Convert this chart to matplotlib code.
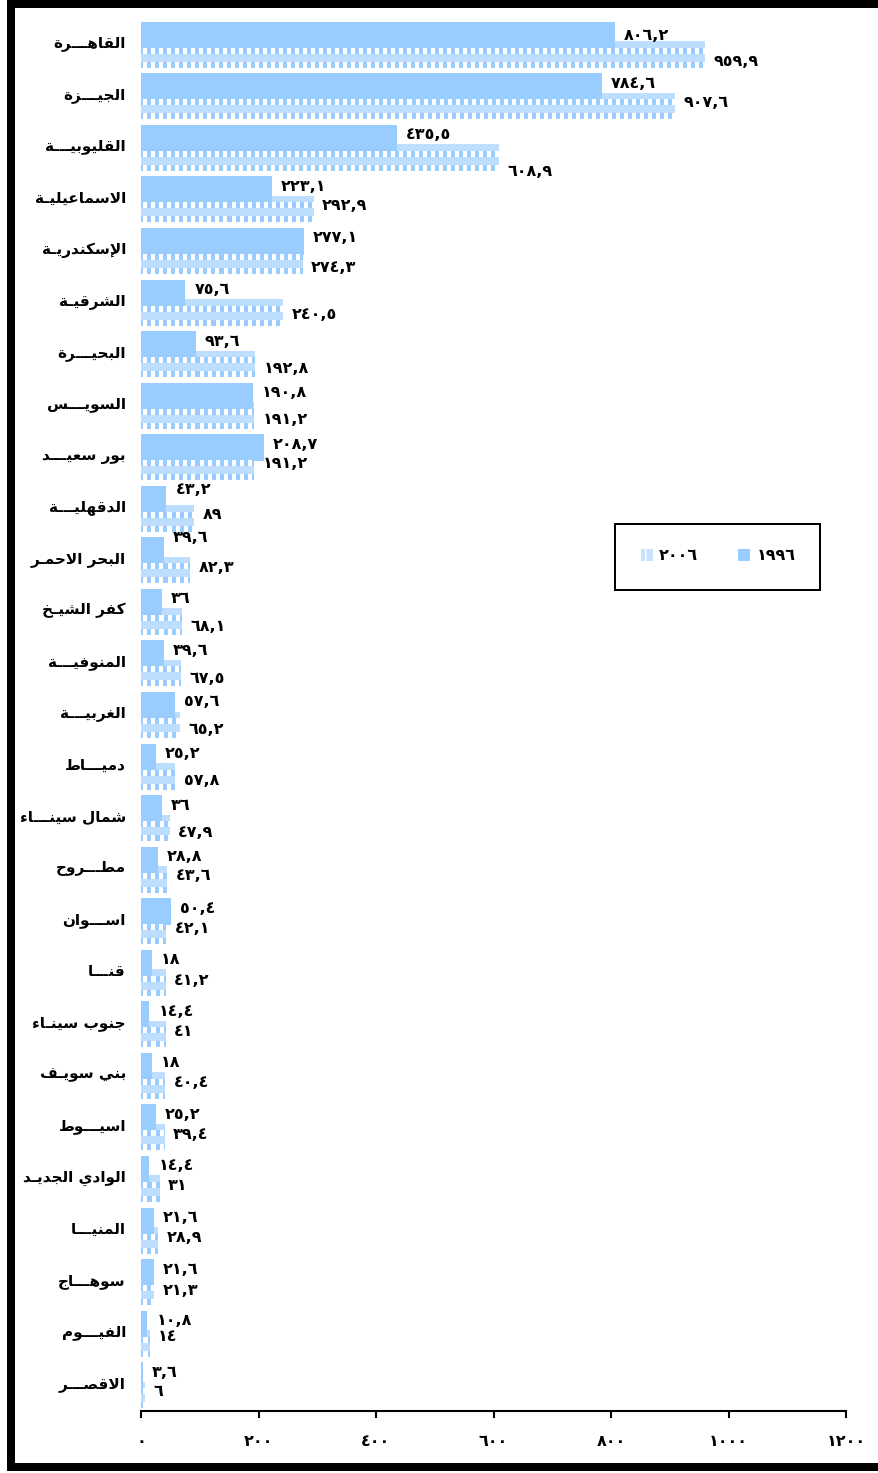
import numpy as np
import matplotlib
matplotlib.use("Agg")
import matplotlib.pyplot as plt
from matplotlib.patches import Rectangle, Patch
from matplotlib.lines import Line2D
from matplotlib.transforms import ScaledTranslation

# ---------------- data ----------------
governorates = ["القاهـــرة", "الجيـــزة", "القليوبيـــة", "الاسماعيليـة", "الإسكندريـة",
                "الشرقيـة", "البحيـــرة", "السويـــس", "بور سعيـــد", "الدقهليـــة",
                "البحر الاحمـر", "كفر الشيـخ", "المنوفيـــة", "الغربيـــة", "دميـــاط",
                "شمال سينـــاء", "مطـــروح", "اســـوان", "قنـــا", "جنوب سينـاء",
                "بني سويـف", "اسيـــوط", "الوادي الجديـد", "المنيـــا", "سوهـــاج",
                "الفيـــوم", "الاقصـــر"]
values_1996 = [806.2, 784.6, 435.5, 223.1, 277.1, 75.6, 93.6, 190.8, 208.7, 43.2,
               39.6, 36, 39.6, 57.6, 25.2, 36, 28.8, 50.4, 18, 14.4,
               18, 25.2, 14.4, 21.6, 21.6, 10.8, 3.6]
values_2006 = [959.9, 907.6, 608.9, 292.9, 274.3, 240.5, 192.8, 191.2, 191.2, 89,
               82.3, 68.1, 67.5, 65.2, 57.8, 47.9, 43.6, 42.1, 41.2, 41,
               40.4, 39.4, 31, 28.9, 21.3, 14, 6]
series_names = ["١٩٩٦", "٢٠٠٦"]
x_ticks = [0, 200, 400, 600, 800, 1000, 1200]

# label nudges (pixels, downward positive) - layout only
lab_dy_1996 = [-13] * 27
lab_dy_1996[0] = -9
lab_dy_1996[9] = -19
lab_dy_1996[10] = -23
lab_dy_2006 = [17, 6, 24, 6, 17, 12, 14, 14, 6, 6,
               7, 15, 15, 15, 14, 14, 6, 7, 8, 7,
               7, 7, 6, 7, 8, 3, 6]

# ---------------- arabic helpers ----------------
AR_DIGITS = str.maketrans("0123456789", "٠١٢٣٤٥٦٧٨٩")

def ar_num(v):
    if float(v) == int(v):
        s = str(int(v))
    else:
        s = f"{v:.1f}".replace(".", ",")
    return s.translate(AR_DIGITS)

FORM_BASE = {
    '\u0621': (0xFE80, 1), '\u0622': (0xFE81, 2), '\u0623': (0xFE83, 2),
    '\u0624': (0xFE85, 2), '\u0625': (0xFE87, 2), '\u0626': (0xFE89, 4),
    '\u0627': (0xFE8D, 2), '\u0628': (0xFE8F, 4), '\u0629': (0xFE93, 2),
    '\u062A': (0xFE95, 4), '\u062B': (0xFE99, 4), '\u062C': (0xFE9D, 4),
    '\u062D': (0xFEA1, 4), '\u062E': (0xFEA5, 4), '\u062F': (0xFEA9, 2),
    '\u0630': (0xFEAB, 2), '\u0631': (0xFEAD, 2), '\u0632': (0xFEAF, 2),
    '\u0633': (0xFEB1, 4), '\u0634': (0xFEB5, 4), '\u0635': (0xFEB9, 4),
    '\u0636': (0xFEBD, 4), '\u0637': (0xFEC1, 4), '\u0638': (0xFEC5, 4),
    '\u0639': (0xFEC9, 4), '\u063A': (0xFECD, 4), '\u0641': (0xFED1, 4),
    '\u0642': (0xFED5, 4), '\u0643': (0xFED9, 4), '\u0644': (0xFEDD, 4),
    '\u0645': (0xFEE1, 4), '\u0646': (0xFEE5, 4), '\u0647': (0xFEE9, 4),
    '\u0648': (0xFEED, 2), '\u0649': (0xFEEF, 2), '\u064A': (0xFEF1, 4),
    '\uFEF5': (0xFEF5, 2), '\uFEF7': (0xFEF7, 2), '\uFEF9': (0xFEF9, 2),
    '\uFEFB': (0xFEFB, 2),
}
LAM_ALEF = {'\u0622': '\uFEF5', '\u0623': '\uFEF7', '\u0625': '\uFEF9', '\u0627': '\uFEFB'}

def jtype(c):
    if c == '\u0640':
        return 4
    return FORM_BASE[c][1] if c in FORM_BASE else 0

def shape(text):
    chars = []
    i = 0
    while i < len(text):
        c = text[i]
        if c == '\u0644' and i + 1 < len(text) and text[i + 1] in LAM_ALEF:
            chars.append(LAM_ALEF[text[i + 1]])
            i += 2
        else:
            chars.append(c)
            i += 1
    out = []
    for k, c in enumerate(chars):
        t = jtype(c)
        if t == 0 or c == '\u0640':
            out.append(c)
            continue
        prev = chars[k - 1] if k > 0 else None
        nxt = chars[k + 1] if k + 1 < len(chars) else None
        jp = prev is not None and jtype(prev) == 4 and t >= 2
        jn = nxt is not None and jtype(nxt) >= 2 and t == 4
        base = FORM_BASE[c][0]
        if t == 1:
            out.append(chr(base))
        elif t == 2:
            out.append(chr(base + (1 if jp else 0)))
        else:
            off = 3 if (jp and jn) else 1 if jp else 2 if jn else 0
            out.append(chr(base + off))
    return "".join(reversed(out))

# ---------------- figure ----------------
plt.rcParams["font.family"] = ["DejaVu Sans"]
W, H, DPI = 879, 1473, 100
fig = plt.figure(figsize=(W / DPI, H / DPI), dpi=DPI)
fig.patch.set_facecolor("white")

ax_l, ax_r, ax_t, ax_b = 141, 846, 19, 1411
ax = fig.add_axes([ax_l / W, 1 - ax_b / H, (ax_r - ax_l) / W, (ax_b - ax_t) / H])

n = len(governorates)
pitch = (ax_b - ax_t) / n          # pixels per category
bar_h = 26.5 / pitch
off = 9.75 / pitch
y = np.arange(n)
BLUE = "#99CCFF"

b96 = ax.barh(y - off, values_1996, height=bar_h, color=BLUE, edgecolor="none", zorder=2)
b06 = ax.barh(y + off, values_2006, height=bar_h, facecolor=(1, 1, 1, 0), edgecolor="none", zorder=3)

# texture for the 2006 pattern fill
px_per_unit = (ax_r - ax_l) / 1200.0
blue_rgba = np.array([153, 204, 255, 255]) / 255.0
half_rgba = np.array([153, 204, 255, 165]) / 255.0
white_rgba = np.array([255, 255, 255, 255]) / 255.0

def make_texture(ncols):
    rows = 27
    tex = np.zeros((rows, ncols, 4))
    for r in range(rows):
        sq_row = (7 <= r < 13) or (21 <= r < 27)
        for c in range(ncols):
            if sq_row:
                tex[r, c] = white_rgba if 2 <= (c % 8) < 6 else blue_rgba
            else:
                tex[r, c] = half_rgba
    return tex

for rect, v in zip(b06.patches, values_2006):
    ncols = max(1, int(round(v * px_per_unit)))
    y0 = rect.get_y()
    y1 = y0 + rect.get_height()
    im = ax.imshow(make_texture(ncols), extent=(0, v, y1, y0), origin="upper",
                   interpolation="nearest", aspect="auto", zorder=3.5)
    im.set_clip_path(rect)

ax.set_xlim(0, 1200)
ax.set_ylim(n - 0.5, -0.5)

# value labels
PT = 72.0 / DPI
VFS = 11.5
for i in range(n):
    ax.annotate(ar_num(values_1996[i]), xy=(values_1996[i], i), xytext=(9 * PT, -lab_dy_1996[i] * PT),
                textcoords="offset points", ha="left", va="center", fontsize=VFS,
                fontweight="bold", color="black", zorder=5)
    ax.annotate(ar_num(values_2006[i]), xy=(values_2006[i], i), xytext=(9 * PT, -lab_dy_2006[i] * PT),
                textcoords="offset points", ha="left", va="center", fontsize=VFS,
                fontweight="bold", color="black", zorder=5)

ax.set_yticks(y)
ax.set_yticklabels([shape(g) for g in governorates], fontsize=11, fontweight="bold")
ax.tick_params(axis="y", length=0, pad=15 * PT)
up = ScaledTranslation(0, 3 / DPI, fig.dpi_scale_trans)
for lab in ax.get_yticklabels():
    lab.set_transform(lab.get_transform() + up)
ax.set_xticks(x_ticks)
ax.set_xticklabels([ar_num(t) for t in x_ticks], fontsize=11.5, fontweight="bold")
ax.tick_params(axis="x", direction="out", length=7 * PT, width=1.5, pad=16 * PT, color="black")

for s in ["left", "top", "right"]:
    ax.spines[s].set_visible(False)
ax.spines["bottom"].set_linewidth(1.5)
ax.set_facecolor("none")

# legend
h06 = Patch(facecolor="#C6E2FF", edgecolor="white", hatch="||", linewidth=0)
h96 = Patch(facecolor=BLUE, edgecolor="none")
fig.legend(handles=[h06, h96], labels=[series_names[1], series_names[0]],
           loc="center", bbox_to_anchor=(718 / W, 1 - 556 / H), ncol=2, frameon=False,
           prop=dict(weight="bold", size=11.5), handlelength=0.75, handleheight=0.75,
           handletextpad=0.4, columnspacing=2.5, borderpad=0, borderaxespad=0)
fig.add_artist(Rectangle((615 / W, 1 - 590 / H), 205 / W, 66 / H, transform=fig.transFigure,
                         fill=False, edgecolor="black", linewidth=2 * PT, zorder=10))

# outer frame: left, top and bottom edges only (right side is cut off in the reference)
FLW = 8 * PT
x_left = 11 / W
y_top = 1 - 3.5 / H
y_bot = 1 - 1467 / H
for xs, ys in [([x_left, x_left], [y_bot, y_top]),
               ([x_left - 4 / W, 1.0], [y_top, y_top]),
               ([x_left - 4 / W, 1.0], [y_bot, y_bot])]:
    fig.add_artist(Line2D(xs, ys, transform=fig.transFigure, color="black",
                          linewidth=FLW, solid_capstyle="butt", zorder=20))
# keep the right edge open
fig.add_artist(Rectangle((868 / W, 1 - 1462 / H), 20 / W, (1462 - 8) / H, transform=fig.transFigure,
                         facecolor="white", edgecolor="none", zorder=21))

fig.savefig("out.png", dpi=DPI, facecolor="white")
